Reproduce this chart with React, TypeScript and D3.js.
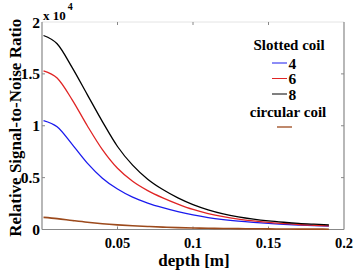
import { useEffect, useRef } from 'react';
import * as d3 from 'd3';

// depth in metres
const depths = [0.001, 0.01, 0.02, 0.03, 0.04, 0.05, 0.06, 0.07, 0.08, 0.09, 0.1, 0.11, 0.12, 0.13, 0.14, 0.15, 0.16, 0.17, 0.18, 0.19];

// relative SNR, units of 1e4
const slotted4 = [1.05, 0.99, 0.82, 0.64, 0.495, 0.39, 0.312, 0.255, 0.21, 0.172, 0.14, 0.115, 0.096, 0.081, 0.069, 0.059, 0.05, 0.043, 0.037, 0.032];
const slotted6 = [1.53, 1.46, 1.25, 1.0, 0.77, 0.59, 0.465, 0.375, 0.305, 0.245, 0.193, 0.154, 0.124, 0.101, 0.083, 0.069, 0.058, 0.048, 0.041, 0.035];
const slotted8 = [1.87, 1.79, 1.56, 1.3, 1.04, 0.8, 0.62, 0.485, 0.385, 0.305, 0.24, 0.19, 0.151, 0.122, 0.1, 0.083, 0.07, 0.059, 0.051, 0.044];
const circular = [0.117, 0.105, 0.087, 0.07, 0.056, 0.045, 0.036, 0.029, 0.023, 0.018, 0.015, 0.012, 0.01, 0.008, 0.007, 0.006, 0.005, 0.004, 0.004, 0.003];

const xTicks = [0.05, 0.1, 0.15, 0.2];
const yTicks = [0, 0.5, 1, 1.5, 2];

const slottedSeries = [
  { label: '4', values: slotted4, color: '#1a1aee' },
  { label: '6', values: slotted6, color: '#e02424' },
  { label: '8', values: slotted8, color: '#000000' },
];
const circularColor = '#9c4a1c';
const serif = 'Liberation Serif';

export default function App() {
  const svgRef = useRef<SVGSVGElement>(null);
  const width = 354;
  const height = 272;

  useEffect(() => {
    if (!svgRef.current) return;
    const svg = d3.select(svgRef.current);
    svg.selectAll('*').remove();

    const left = 42, right = 344, top = 22, bottom = 229.5;
    const x = d3.scaleLinear().domain([0, 0.2]).range([left, right]);
    const y = d3.scaleLinear().domain([0, 2]).range([bottom, top]);
    const axisColor = '#888';

    const label = (sel: d3.Selection<any, any, any, any>, size: number) =>
      sel.append('text')
        .attr('font-family', serif)
        .attr('font-weight', 'bold')
        .attr('font-size', size);

    // frame
    svg.append('line').attr('x1', left).attr('x2', right).attr('y1', top).attr('y2', top)
      .attr('stroke', '#e4e4e4').attr('stroke-width', 1);
    svg.append('line').attr('x1', left).attr('x2', right).attr('y1', bottom).attr('y2', bottom)
      .attr('stroke', axisColor).attr('stroke-width', 1.2);
    svg.append('line').attr('x1', left).attr('x2', left).attr('y1', top).attr('y2', bottom)
      .attr('stroke', axisColor).attr('stroke-width', 1.2);
    svg.append('line').attr('x1', right).attr('x2', right).attr('y1', top).attr('y2', bottom)
      .attr('stroke', axisColor).attr('stroke-width', 1.2);

    // ticks
    xTicks.forEach(t => {
      if (t < 0.2) {
        svg.append('line').attr('x1', x(t)).attr('x2', x(t)).attr('y1', bottom).attr('y2', bottom - 3)
          .attr('stroke', axisColor);
        svg.append('line').attr('x1', x(t)).attr('x2', x(t)).attr('y1', top).attr('y2', top + 3)
          .attr('stroke', axisColor);
      }
      label(svg, 14.5).attr('x', x(t)).attr('y', 247.5).attr('text-anchor', 'middle').text(String(t));
    });
    yTicks.forEach(t => {
      if (t > 0 && t < 2) {
        svg.append('line').attr('x1', left).attr('x2', left + 3).attr('y1', y(t)).attr('y2', y(t))
          .attr('stroke', axisColor);
        svg.append('line').attr('x1', right).attr('x2', right - 3).attr('y1', y(t)).attr('y2', y(t))
          .attr('stroke', axisColor);
      }
      label(svg, 15.5).attr('x', 40).attr('y', y(t) + 5.5).attr('text-anchor', 'end').text(String(t));
    });

    // exponent
    const exp = label(svg, 13).attr('x', 43).attr('y', 20);
    exp.append('tspan').text('x 10');
    exp.append('tspan').attr('dx', 2).attr('dy', -10).attr('font-size', 10).text('4');

    // axis labels
    label(svg, 17).attr('x', 194).attr('y', 265.5).attr('text-anchor', 'middle').text('depth [m]');
    label(svg, 17)
      .attr('transform', `translate(21,${(top + bottom) / 2 + 2}) rotate(-90)`)
      .attr('text-anchor', 'middle')
      .text('Relative Signal-to-Noise Ratio');

    // curves
    const line = d3.line<number>()
      .x((_, i) => x(depths[i]))
      .y(d => y(d))
      .curve(d3.curveMonotoneX);

    svg.append('path').attr('d', line(circular)).attr('fill', 'none')
      .attr('stroke', circularColor).attr('stroke-width', 1.6);
    slottedSeries.forEach(s => {
      svg.append('path').attr('d', line(s.values)).attr('fill', 'none')
        .attr('stroke', s.color).attr('stroke-width', 1.3);
    });

    // legend
    label(svg, 15).attr('x', 289).attr('y', 50).attr('text-anchor', 'middle').text('Slotted coil');
    slottedSeries.forEach((s, i) => {
      const ly = 63 + i * 15.5;
      svg.append('line').attr('x1', 272).attr('x2', 287).attr('y1', ly).attr('y2', ly)
        .attr('stroke', s.color).attr('stroke-width', 1);
      label(svg, 15.5).attr('x', 288.5).attr('y', ly + 5.5).text(s.label);
    });
    label(svg, 15).attr('x', 288).attr('y', 117).attr('text-anchor', 'middle').text('circular coil');
    svg.append('line').attr('x1', 277).attr('x2', 292).attr('y1', 127).attr('y2', 127)
      .attr('stroke', circularColor).attr('stroke-width', 1.3);
  }, []);

  return (
    <svg ref={svgRef} width={width} height={height}
      style={{ position: 'absolute', left: 0, top: 0, background: '#fff' }} />
  );
}
